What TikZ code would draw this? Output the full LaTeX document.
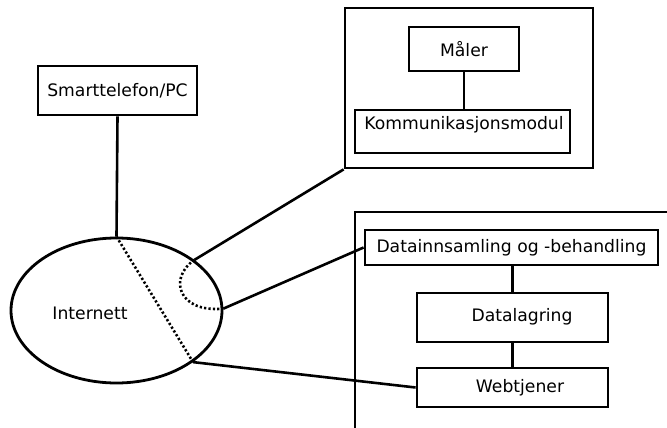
\documentclass[tikz,border=0pt]{standalone}
\usepackage{fontspec}
\setmainfont{DejaVu Sans}
\usetikzlibrary{shapes.geometric}
\begin{document}
\begin{tikzpicture}[x=1pt,y=-1pt,
  line width=2.8pt,
  every node/.style={font=\fontsize{17.2}{20}\selectfont, inner sep=0pt},
  box/.style={draw, rectangle, line width=2.8pt},
  frame/.style={draw, rectangle, line width=2.8pt},
  link/.style={line width=2.6pt},
  split/.style={line width=2.6pt, dash pattern=on 2.2pt off 2.2pt}
]
\useasboundingbox (0,0) rectangle (667,428);
\clip (0,0) rectangle (667,428);

% client device
\node[box, minimum width=159pt, minimum height=49pt] (phone) at (117.5,90.5) {Smarttelefon/PC};

% the internet cloud
\node[draw, ellipse, line width=2.8pt, minimum width=211pt, minimum height=145pt] (net) at (116.5,310.5) {};
\node (nettxt) at (90,313) {Internett};

% metering unit
\node[frame, minimum width=248pt, minimum height=160pt] (meter) at (469,88) {};
\node[box, minimum width=110pt, minimum height=44pt] (maaler) at (464,49) {Måler};
\node[box, minimum width=215pt, minimum height=43pt] (komm) at (462.5,131.5) {};
\node (kommtxt) at (464,125) {Kommunikasjonsmodul};

% server side
\node[frame, minimum width=340pt, minimum height=240pt] (server) at (525,332) {};
\node[box, minimum width=293pt, minimum height=35pt] (innsamling) at (511.5,247.5) {Datainnsamling og -behandling};
\node[box, minimum width=191pt, minimum height=49pt] (lagring) at (512.5,317.5) {};
\node (lagringtxt) at (522,317) {Datalagring};
\node[box, minimum width=191pt, minimum height=39pt] (web) at (512.5,387.5) {};
\node (webtxt) at (520,388) {Webtjener};

% connections
\draw[link] (phone.south) -- (net.north);
\draw[link] (maaler.south) -- (maaler.south |- komm.north);
\draw[link] (innsamling.south -| lagring.north) -- (lagring.north);
\draw[link] (lagring.south) -- (web.north);
\draw[link] (net.33.6) -- (meter.south west);
\draw[link] (net.1) -- (innsamling.west);
\draw[link] (net.-34) -- (web.west);

% dotted partitions of the cloud
\draw[split] (net.north) -- (net.-34);
\draw[split] (net.33.6) .. controls (168,278) and (178,313) .. (net.1);
\end{tikzpicture}
\end{document}
